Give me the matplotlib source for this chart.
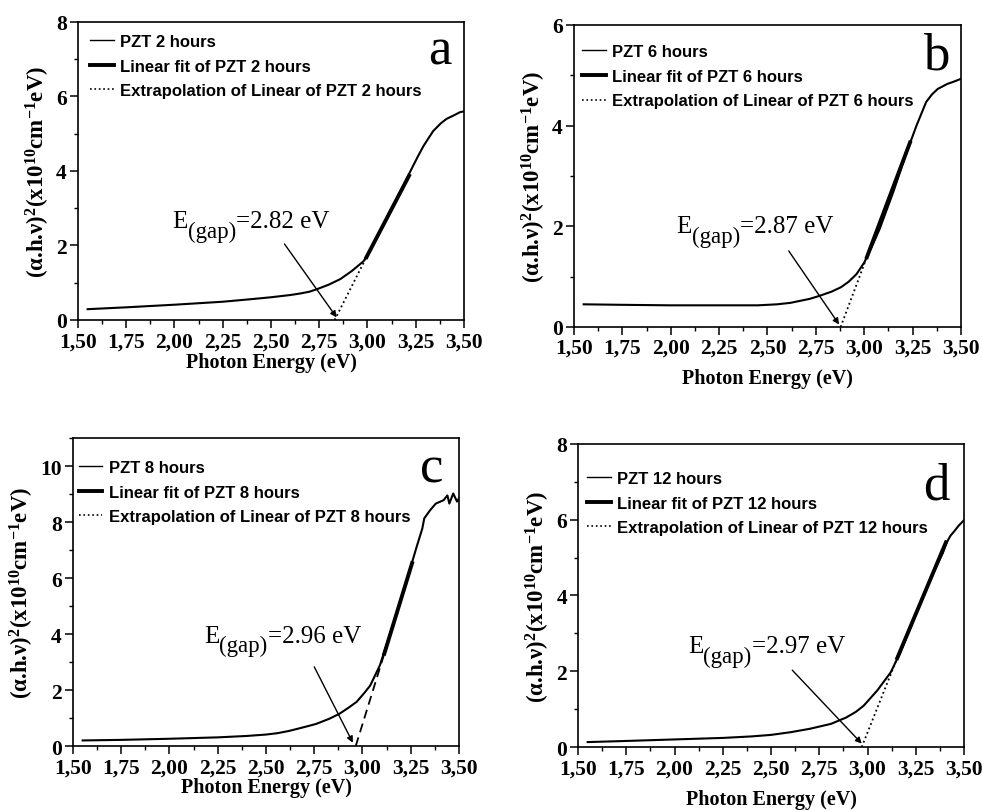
import matplotlib
matplotlib.use("Agg")
import matplotlib.pyplot as plt
from matplotlib.lines import Line2D
from matplotlib.ticker import MultipleLocator, FixedLocator

plt.rcParams['mathtext.fontset'] = 'custom'
plt.rcParams['mathtext.rm'] = 'Liberation Serif'
plt.rcParams['mathtext.it'] = 'Liberation Serif:italic'
plt.rcParams['mathtext.bf'] = 'Liberation Serif:bold'

# Panel a : PZT 2 hours
xa = [1.55, 1.75, 2.00, 2.25, 2.40, 2.50, 2.60, 2.65, 2.70, 2.74, 2.80, 2.86, 2.92, 2.98, 3.03,
      3.08, 3.12, 3.17, 3.22, 3.26, 3.29, 3.34, 3.38, 3.41, 3.45, 3.48, 3.50]
ya = [0.29, 0.34, 0.41, 0.49, 0.56, 0.61, 0.67, 0.71, 0.76, 0.83, 0.95, 1.10, 1.32, 1.58, 2.03,
      2.52, 2.95, 3.44, 3.97, 4.38, 4.67, 5.07, 5.28, 5.40, 5.50, 5.58, 5.60]
fit_xa = [2.99, 3.22]
fit_ya = [1.64, 3.92]
ext_xa = [2.83, 2.99]
ext_ya = [0.0, 1.64]

# Panel b : PZT 6 hours
xb = [1.55, 1.75, 2.00, 2.25, 2.45, 2.55, 2.62, 2.67, 2.72, 2.77, 2.83, 2.88, 2.92, 2.96, 3.00,
      3.04, 3.08, 3.15, 3.22, 3.27, 3.32, 3.35, 3.38, 3.43, 3.46, 3.50]
yb = [0.45, 0.44, 0.43, 0.43, 0.43, 0.45, 0.48, 0.52, 0.56, 0.62, 0.70, 0.79, 0.90, 1.05, 1.28,
      1.60, 1.95, 2.68, 3.48, 4.00, 4.47, 4.62, 4.73, 4.83, 4.87, 4.93]
fit_xb = [3.01, 3.24]
fit_yb = [1.35, 3.70]
ext_xb = [2.878, 3.01]
ext_yb = [0.0, 1.35]

# Panel c : PZT 8 hours
xc = [1.55, 1.75, 2.00, 2.25, 2.40, 2.50, 2.56, 2.62, 2.70, 2.76, 2.83, 2.88, 2.93, 2.97, 3.01,
      3.04, 3.09, 3.14, 3.19, 3.25, 3.28, 3.31, 3.32, 3.35, 3.38, 3.42, 3.44, 3.45, 3.47, 3.49, 3.50]
yc = [0.20, 0.22, 0.26, 0.31, 0.36, 0.41, 0.46, 0.54, 0.68, 0.79, 0.98, 1.15, 1.38, 1.58, 1.90,
      2.16, 2.88, 3.95, 5.02, 6.40, 7.10, 7.77, 8.13, 8.42, 8.66, 8.78, 8.95, 8.66, 9.02, 8.73, 8.85]
fit_xc = [3.11, 3.26]
fit_yc = [3.23, 6.60]
ext_xc = [2.965, 3.11]
ext_yc = [0.0, 3.23]

# Panel d : PZT 12 hours
xd = [1.55, 1.75, 2.00, 2.25, 2.40, 2.50, 2.60, 2.70, 2.81, 2.89, 2.94, 2.98, 3.05, 3.12, 3.17,
      3.22, 3.27, 3.32, 3.36, 3.39, 3.41, 3.43, 3.45, 3.47, 3.50]
yd = [0.13, 0.16, 0.20, 0.24, 0.28, 0.32, 0.39, 0.48, 0.61, 0.78, 0.93, 1.09, 1.49, 1.97, 2.50,
      3.12, 3.73, 4.35, 4.80, 5.12, 5.40, 5.58, 5.70, 5.83, 5.99]
fit_xd = [3.15, 3.41]
fit_yd = [2.30, 5.45]
ext_xd = [2.97, 3.15]
ext_yd = [0.0, 2.30]

hours = ["2", "6", "8", "12"]
letters = ["a", "b", "c", "d"]
gaps = ["2.82", "2.87", "2.96", "2.97"]
ymax = [8, 6, 11, 8]
ymajor = [[0, 2, 4, 6, 8], [0, 2, 4, 6], [0, 2, 4, 6, 8, 10], [0, 2, 4, 6, 8]]
xticks = [1.50, 1.75, 2.00, 2.25, 2.50, 2.75, 3.00, 3.25, 3.50]
xticklabels = ["1,50", "1,75", "2,00", "2,25", "2,50", "2,75", "3,00", "3,25", "3,50"]

curves = [(xa, ya), (xb, yb), (xc, yc), (xd, yd)]
fits = [(fit_xa, fit_ya), (fit_xb, fit_yb), (fit_xc, fit_yc), (fit_xd, fit_yd)]
exts = [(ext_xa, ext_ya), (ext_xb, ext_yb), (ext_xc, ext_yc), (ext_xd, ext_yd)]

# layout / annotation placement
boxes = [[0.0794, 0.6047, 0.3931, 0.3670],
         [0.5845, 0.5961, 0.3941, 0.3719],
         [0.0743, 0.0800, 0.3931, 0.3793],
         [0.5886, 0.0788, 0.3931, 0.3732]]
text_pos = [(1.99, 2.35), (2.03, 1.78), (2.18, 3.55), (2.07, 2.38)]
arrow_tail = [(2.57, 2.04), (2.61, 1.51), (2.75, 2.83), (2.61, 2.03)]
arrow_head = [(2.84, 0.07), (2.87, 0.05), (2.95, 0.12), (2.97, 0.09)]
letter_pos = [(0.938, 0.903), (0.935, 0.898), (0.928, 0.902), (0.928, 0.864)]
legend_pos = [(0.032, 0.960), (0.022, 0.937), (0.015, 0.929), (0.024, 0.911)]
xlabel_pads = [1, 7.5, 0, 7.5]
ext_styles = [":", ":", (0, (5, 3)), ":"]

fig = plt.figure(figsize=(9.82, 8.12), dpi=100)

serif = "Liberation Serif"
sans = "Liberation Sans"

for i in range(4):
    ax = fig.add_axes(boxes[i])
    cx, cy = curves[i]
    ax.plot(cx, cy, color="black", lw=1.5)
    ax.plot(fits[i][0], fits[i][1], color="black", lw=2.8, solid_capstyle="butt")
    ax.plot(exts[i][0], exts[i][1], color="black", lw=1.3, linestyle=ext_styles[i])

    ax.set_xlim(1.50, 3.50)
    ax.set_ylim(0, ymax[i])
    ax.xaxis.set_major_locator(FixedLocator(xticks))
    ax.xaxis.set_minor_locator(MultipleLocator(0.125))
    ax.yaxis.set_major_locator(FixedLocator(ymajor[i]))
    ax.yaxis.set_minor_locator(MultipleLocator(1))
    ax.set_xticklabels(xticklabels)
    ax.tick_params(which="major", direction="out", length=6, width=1.1, pad=2)
    ax.tick_params(which="minor", direction="out", length=3, width=1.0)
    for lab in ax.get_xticklabels() + ax.get_yticklabels():
        lab.set_fontfamily(serif)
        lab.set_fontweight("bold")
        lab.set_fontsize(15.5)
    for sp in ax.spines.values():
        sp.set_linewidth(1.2)

    ax.set_xlabel("Photon Energy (eV)", fontfamily=serif, fontweight="bold", fontsize=14.5,
                  labelpad=xlabel_pads[i])
    ax.set_ylabel(r"(α.h.ν)$\mathbf{^{2}}$(x10$\mathbf{^{10}}$cm$\mathbf{^{-1}}$eV)",
                  fontfamily=serif, fontweight="bold", fontsize=16.5, labelpad=3)

    handles = [Line2D([], [], color="black", lw=1.0),
               Line2D([], [], color="black", lw=2.8),
               Line2D([], [], color="black", lw=1.2, linestyle=":")]
    labels = ["PZT " + hours[i] + " hours",
              "Linear fit of PZT " + hours[i] + " hours",
              "Extrapolation of Linear of PZT " + hours[i] + " hours"]
    ax.legend(handles, labels, loc="upper left", bbox_to_anchor=legend_pos[i], frameon=False,
              borderaxespad=0, borderpad=0, handlelength=1.4, handletextpad=0.4, labelspacing=0.58,
              prop={"family": sans, "weight": "bold", "size": 12})

    ax.text(letter_pos[i][0], letter_pos[i][1], letters[i], transform=ax.transAxes,
            ha="center", va="center", fontfamily=serif, fontsize=38)

    # E(gap) label built from three pieces so the subscript keeps a large size
    t1 = ax.text(text_pos[i][0], text_pos[i][1], "E", ha="left", va="bottom",
                 fontfamily=serif, fontsize=18)
    t2 = ax.annotate("(gap)", xy=(1, 0), xycoords=t1, xytext=(0, -7), textcoords="offset points",
                     ha="left", va="bottom", fontfamily=serif, fontsize=16.5)
    ax.annotate("=" + gaps[i] + " eV", xy=(1, 0), xycoords=t2, xytext=(0, 7), textcoords="offset points",
                ha="left", va="bottom", fontfamily=serif, fontsize=18)

    ax.annotate("", xy=arrow_head[i], xytext=arrow_tail[i],
                arrowprops=dict(arrowstyle="-|>", color="black", lw=1.0,
                                mutation_scale=9, shrinkA=0, shrinkB=0))

fig.savefig("out.png", dpi=100)
